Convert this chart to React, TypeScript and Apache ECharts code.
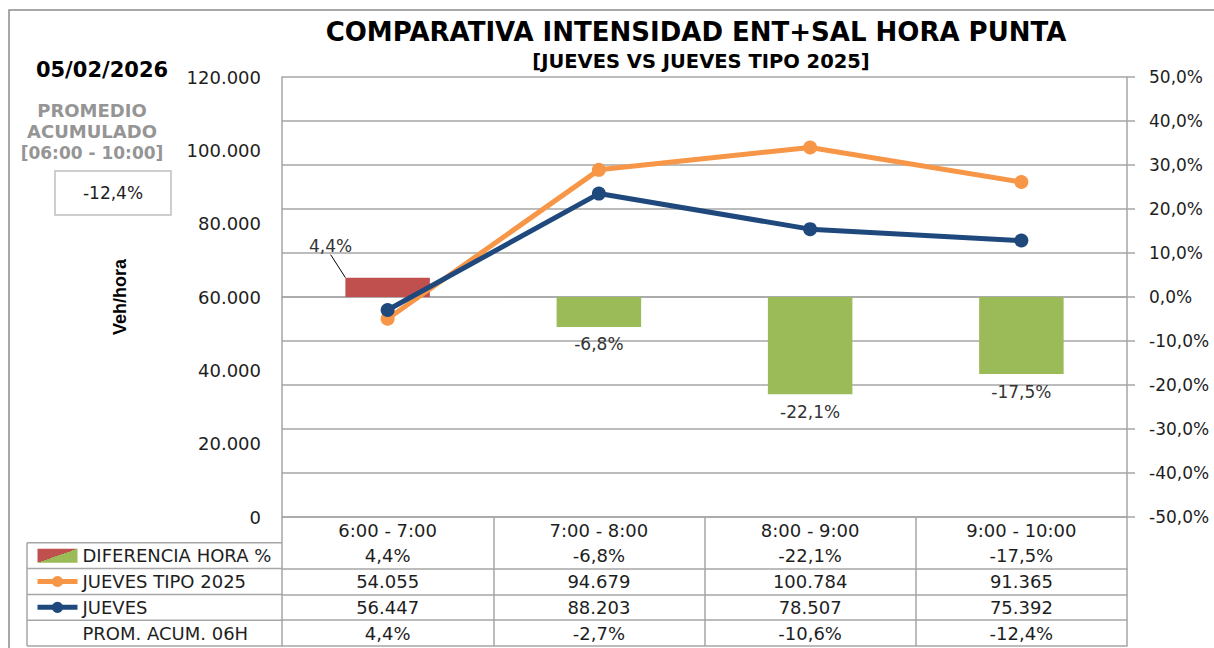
import React, { useEffect, useRef } from 'react';
import * as echarts from 'echarts';

const categories = ['6:00 - 7:00', '7:00 - 8:00', '8:00 - 9:00', '9:00 - 10:00'];
const diferenciaHora = [4.4, -6.8, -22.1, -17.5];
const juevesTipo2025 = [54055, 94679, 100784, 91365];
const jueves = [56447, 88203, 78507, 75392];
const promAcum06h = [4.4, -2.7, -10.6, -12.4];

const leftAxis = { min: 0, max: 120000, interval: 20000 };
const rightAxis = { min: -50, max: 50, interval: 10 };

const titleText = 'COMPARATIVA INTENSIDAD ENT+SAL HORA PUNTA';
const subtitleText = '[JUEVES VS JUEVES TIPO 2025]';
const dateText = '05/02/2026';
const promedioLines = ['PROMEDIO', 'ACUMULADO', '[06:00 - 10:00]'];
const rowNames = ['DIFERENCIA HORA %', 'JUEVES TIPO 2025', 'JUEVES', 'PROM. ACUM. 06H'];

const FONT = 'DejaVu Sans';
const TXT = '#1e1e1e';
const GRAY = '#a6a6a6';
const RED = '#C0504D';
const GREEN = '#9BBB59';
const ORANGE = '#F79646';
const BLUE = '#1F497D';

const fmtThousands = (v: number) => Math.round(v).toString().replace(/\B(?=(\d{3})+(?!\d))/g, '.');
const fmtPct = (v: number) => v.toFixed(1).replace('.', ',') + '%';

// layout
const GRID_L = 282;
const GRID_R = 1127;
const GRID_T = 77;
const GRID_B = 517;
const ROW_H = 25.8;
const TABLE_L = 27;

export default function App() {
  const ref = useRef<HTMLDivElement>(null);
  useEffect(() => {
    if (!ref.current) return;
    const chart = echarts.init(ref.current, null, { renderer: 'svg' });
    const rows = [
      diferenciaHora.map(fmtPct),
      juevesTipo2025.map(fmtThousands),
      jueves.map(fmtThousands),
      promAcum06h.map(fmtPct),
    ];
    const lineStyle = { color: GRAY, width: 1.5 };
    const labelBase = { fontFamily: FONT, fontSize: 18, color: TXT };
    const xAxes: any[] = [
      {
        type: 'category',
        data: categories,
        position: 'bottom',
        boundaryGap: true,
        axisLine: { show: true, lineStyle },
        axisTick: { show: true, interval: 0, length: ROW_H * 5, lineStyle },
        axisLabel: { ...labelBase, interval: 0, margin: 4 },
        splitLine: { show: false },
      },
    ];
    for (let k = 1; k <= 5; k++) {
      xAxes.push({
        type: 'category',
        data: categories,
        position: 'bottom',
        offset: ROW_H * k,
        axisLine: { show: true, lineStyle },
        axisTick: { show: false },
        axisLabel:
          k <= 4
            ? { ...labelBase, interval: 0, margin: 4, formatter: (_v: string, i: number) => rows[k - 1][i] }
            : { show: false },
        splitLine: { show: false },
      });
    }

    const graphics: any[] = [
      { type: 'rect', silent: true, shape: { x: 9, y: 10, width: 1300, height: 800 }, style: { fill: 'none', stroke: '#8c8c8c', lineWidth: 1.5 } },
      { type: 'text', silent: true, x: 696, y: 32, style: { text: titleText, fontFamily: FONT, fontWeight: 'bold', fontSize: 26, fill: '#000', align: 'center', verticalAlign: 'middle' } },
      { type: 'text', silent: true, x: 701, y: 61, style: { text: subtitleText, fontFamily: FONT, fontWeight: 'bold', fontSize: 19.5, fill: '#000', align: 'center', verticalAlign: 'middle' } },
      { type: 'text', silent: true, x: 102, y: 70, style: { text: dateText, fontFamily: FONT, fontWeight: 'bold', fontSize: 21, fill: '#000', align: 'center', verticalAlign: 'middle' } },
      ...promedioLines.map((t, i) => ({
        type: 'text', silent: true, x: 92, y: 110 + i * 21.5,
        style: { text: t, fontFamily: FONT, fontWeight: 'bold', fontSize: i === 2 ? 17 : 18, fill: '#959595', align: 'center', verticalAlign: 'middle' },
      })),
      { type: 'rect', silent: true, shape: { x: 55, y: 171, width: 116, height: 44 }, style: { fill: '#fff', stroke: '#bfbfbf', lineWidth: 1.5 } },
      { type: 'text', silent: true, x: 113, y: 193, style: { text: fmtPct(promAcum06h[promAcum06h.length - 1]), fontFamily: FONT, fontSize: 17, fill: TXT, align: 'center', verticalAlign: 'middle' } },
      { type: 'line', silent: true, shape: { x1: TABLE_L, y1: GRID_B + ROW_H, x2: TABLE_L, y2: GRID_B + ROW_H * 5 }, style: { stroke: GRAY, lineWidth: 1.5 } },
      ...[1, 2, 3, 4, 5].map((k) => ({
        type: 'line', silent: true,
        shape: { x1: TABLE_L, y1: GRID_B + ROW_H * k, x2: GRID_L, y2: GRID_B + ROW_H * k },
        style: { stroke: GRAY, lineWidth: 1.5 },
      })),
    ];

    const barLegendColor = new echarts.graphic.LinearGradient(0, 0, 1, 1, [
      { offset: 0, color: RED },
      { offset: 0.5, color: RED },
      { offset: 0.5, color: GREEN },
      { offset: 1, color: GREEN },
    ]);

    chart.setOption({
      animation: false,
      backgroundColor: '#fff',
      textStyle: { fontFamily: FONT },
      grid: { left: GRID_L, right: 1214 - GRID_R, top: GRID_T, bottom: 648 - GRID_B, containLabel: false },
      legend: {
        orient: 'vertical',
        left: 35,
        top: GRID_B + ROW_H,
        padding: 0,
        itemGap: 0,
        itemWidth: 40,
        itemHeight: 14,
        selectedMode: false,
        textStyle: { fontFamily: FONT, fontSize: 18, color: TXT, lineHeight: ROW_H },
        data: [
          { name: rowNames[0], icon: 'rect' },
          { name: rowNames[1], lineStyle: { width: 5, color: ORANGE } },
          { name: rowNames[2], lineStyle: { width: 5, color: BLUE } },
          { name: rowNames[3], icon: 'none' },
        ],
      },
      xAxis: xAxes,
      yAxis: [
        {
          type: 'value',
          min: leftAxis.min,
          max: leftAxis.max,
          interval: leftAxis.interval,
          position: 'left',
          name: 'Veh/hora',
          nameLocation: 'middle',
          nameRotate: 90,
          nameGap: 153,
          nameTextStyle: { fontFamily: 'Liberation Sans', fontWeight: 'bold', fontSize: 18, color: '#000' },
          axisLine: { show: true, lineStyle },
          axisTick: { show: false },
          splitLine: { show: false },
          axisLabel: { ...labelBase, margin: 21, formatter: (v: number) => (v === 0 ? '0' : fmtThousands(v)) },
        },
        {
          type: 'value',
          min: rightAxis.min,
          max: rightAxis.max,
          interval: rightAxis.interval,
          position: 'right',
          axisLine: { show: true, lineStyle },
          axisTick: { show: true, length: 8, lineStyle },
          splitLine: { show: true, lineStyle },
          axisLabel: { fontFamily: FONT, fontSize: 17, color: TXT, margin: 22, formatter: (v: number) => fmtPct(v) },
        },
      ],
      series: [
        {
          type: 'bar',
          name: rowNames[0],
          yAxisIndex: 1,
          barWidth: '40%',
          itemStyle: { color: barLegendColor },
          data: diferenciaHora.map((v, i) => ({
            value: v,
            itemStyle: { color: v >= 0 ? RED : GREEN },
            label: {
              show: true,
              position: v >= 0 ? 'top' : 'bottom',
              distance: 9,
              fontFamily: FONT,
              fontSize: 17,
              color: '#333',
              formatter: () => fmtPct(v),
            },
            labelLine: i === 0 && v >= 0 ? { show: true, lineStyle: { color: '#000', width: 1 } } : { show: false },
          })),
          labelLayout: (p: any) => (p.dataIndex === 0 ? { dx: -57, dy: -14 } : {}),
          z: 1,
        },
        {
          type: 'line',
          name: rowNames[1],
          yAxisIndex: 0,
          data: juevesTipo2025,
          symbol: 'circle',
          symbolSize: 14,
          lineStyle: { color: ORANGE, width: 5 },
          itemStyle: { color: ORANGE },
          z: 3,
        },
        {
          type: 'line',
          name: rowNames[2],
          yAxisIndex: 0,
          data: jueves,
          symbol: 'circle',
          symbolSize: 14,
          lineStyle: { color: BLUE, width: 5 },
          itemStyle: { color: BLUE },
          z: 4,
        },
        {
          type: 'line',
          name: rowNames[3],
          yAxisIndex: 0,
          data: [],
          lineStyle: { width: 0 },
          itemStyle: { color: 'transparent' },
        },
      ],
      graphic: graphics,
    });
    return () => chart.dispose();
  }, []);
  return (
    <div
      ref={ref}
      style={{ position: 'fixed', left: 0, top: 0, width: 1214, height: 648, background: '#fff' }}
    />
  );
}
